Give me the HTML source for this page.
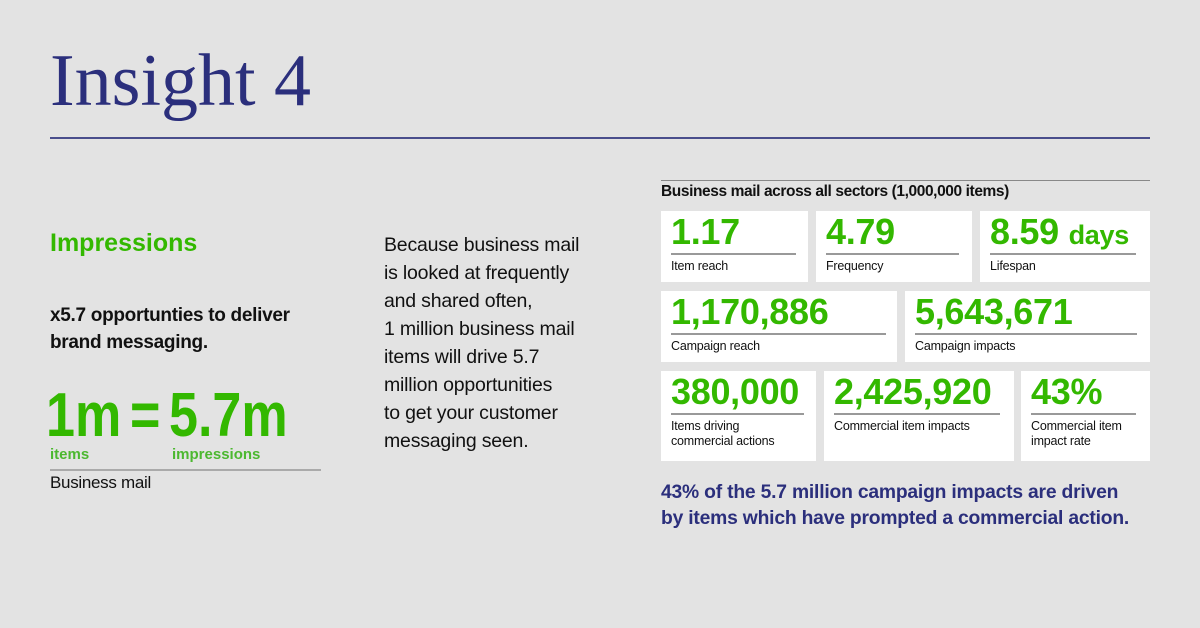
<!DOCTYPE html>
<html><head><meta charset="utf-8"><style>
body{margin:0;width:1200px;height:628px;background:#e3e3e3;font-family:"Liberation Sans",sans-serif;position:relative;overflow:hidden}
div,span{position:absolute}
.g{color:#33b800;font-weight:bold}
.card{background:#fff}
.num{left:10px;top:0px;font-size:36px;font-weight:bold;color:#33b800;letter-spacing:-0.3px;white-space:nowrap}
.ul{left:10px;top:42px;height:2px;background:#999}
.lab{left:10px;top:48px;font-size:12.5px;line-height:15px;color:#111;letter-spacing:-0.2px}
.p{left:384px;font-size:19.5px;color:#111;white-space:nowrap;letter-spacing:-0.2px}
.eq{top:380px;font-size:62px;transform:scaleX(0.84);transform-origin:left top;white-space:nowrap}
</style></head><body>
<div style="left:50px;top:39px;font-family:'Liberation Serif',serif;font-style:normal;font-size:74px;color:#2b2f7c;white-space:nowrap">Insight 4</div>
<div style="left:50px;top:137px;width:1100px;height:2px;background:#4a4e8c"></div>

<div class="g" style="left:50px;top:229px;font-size:25px">Impressions</div>
<div style="left:50px;top:302px;font-size:19px;font-weight:bold;line-height:27px;color:#111;letter-spacing:-0.3px;white-space:nowrap">x5.7 opportunties to deliver<br>brand messaging.</div>
<div class="g eq" style="left:46px">1m</div>
<div class="g eq" style="left:130px">=</div>
<div class="g eq" style="left:169px">5.7m</div>
<div class="g" style="left:50px;top:446px;font-size:15px;color:#4cb830">items</div>
<div class="g" style="left:172px;top:446px;font-size:15px;color:#4cb830">impressions</div>
<div style="left:50px;top:469px;width:271px;height:2px;background:#aaa"></div>
<div style="left:50px;top:473px;font-size:17px;color:#111;letter-spacing:-0.3px">Business mail</div>

<div class="p" style="top:234px">Because business mail</div>
<div class="p" style="top:262px">is looked at frequently</div>
<div class="p" style="top:290px">and shared often,</div>
<div class="p" style="top:318px">1 million business mail</div>
<div class="p" style="top:346px">items will drive 5.7</div>
<div class="p" style="top:374px">million opportunities</div>
<div class="p" style="top:402px">to get your customer</div>
<div class="p" style="top:430px">messaging seen.</div>

<div style="left:661px;top:180px;width:489px;height:1px;background:#888"></div>
<div style="left:661px;top:183px;font-size:15.5px;font-weight:bold;color:#111;letter-spacing:-0.4px;white-space:nowrap">Business mail across all sectors (1,000,000 items)</div>

<div class="card" style="left:661px;top:211px;width:147px;height:71px"><span class="num">1.17</span><span class="ul" style="width:125px"></span><span class="lab">Item reach</span></div>
<div class="card" style="left:816px;top:211px;width:156px;height:71px"><span class="num">4.79</span><span class="ul" style="width:133px"></span><span class="lab">Frequency</span></div>
<div class="card" style="left:980px;top:211px;width:170px;height:71px"><span class="num">8.59 <span style="position:static;font-size:27px">days</span></span><span class="ul" style="width:146px"></span><span class="lab">Lifespan</span></div>

<div class="card" style="left:661px;top:291px;width:236px;height:71px"><span class="num">1,170,886</span><span class="ul" style="width:215px"></span><span class="lab">Campaign reach</span></div>
<div class="card" style="left:905px;top:291px;width:245px;height:71px"><span class="num">5,643,671</span><span class="ul" style="width:222px"></span><span class="lab">Campaign impacts</span></div>

<div class="card" style="left:661px;top:371px;width:155px;height:90px"><span class="num">380,000</span><span class="ul" style="width:133px"></span><span class="lab">Items driving<br>commercial actions</span></div>
<div class="card" style="left:824px;top:371px;width:190px;height:90px"><span class="num">2,425,920</span><span class="ul" style="width:166px"></span><span class="lab">Commercial item impacts</span></div>
<div class="card" style="left:1021px;top:371px;width:129px;height:90px"><span class="num">43%</span><span class="ul" style="width:105px"></span><span class="lab">Commercial item<br>impact rate</span></div>

<div style="left:661px;top:480px;font-size:19.3px;font-weight:bold;line-height:26px;color:#2b2f7c;letter-spacing:-0.2px;white-space:nowrap">43% of the 5.7 million campaign impacts are driven<br>by items which have prompted a commercial action.</div>
</body></html>
